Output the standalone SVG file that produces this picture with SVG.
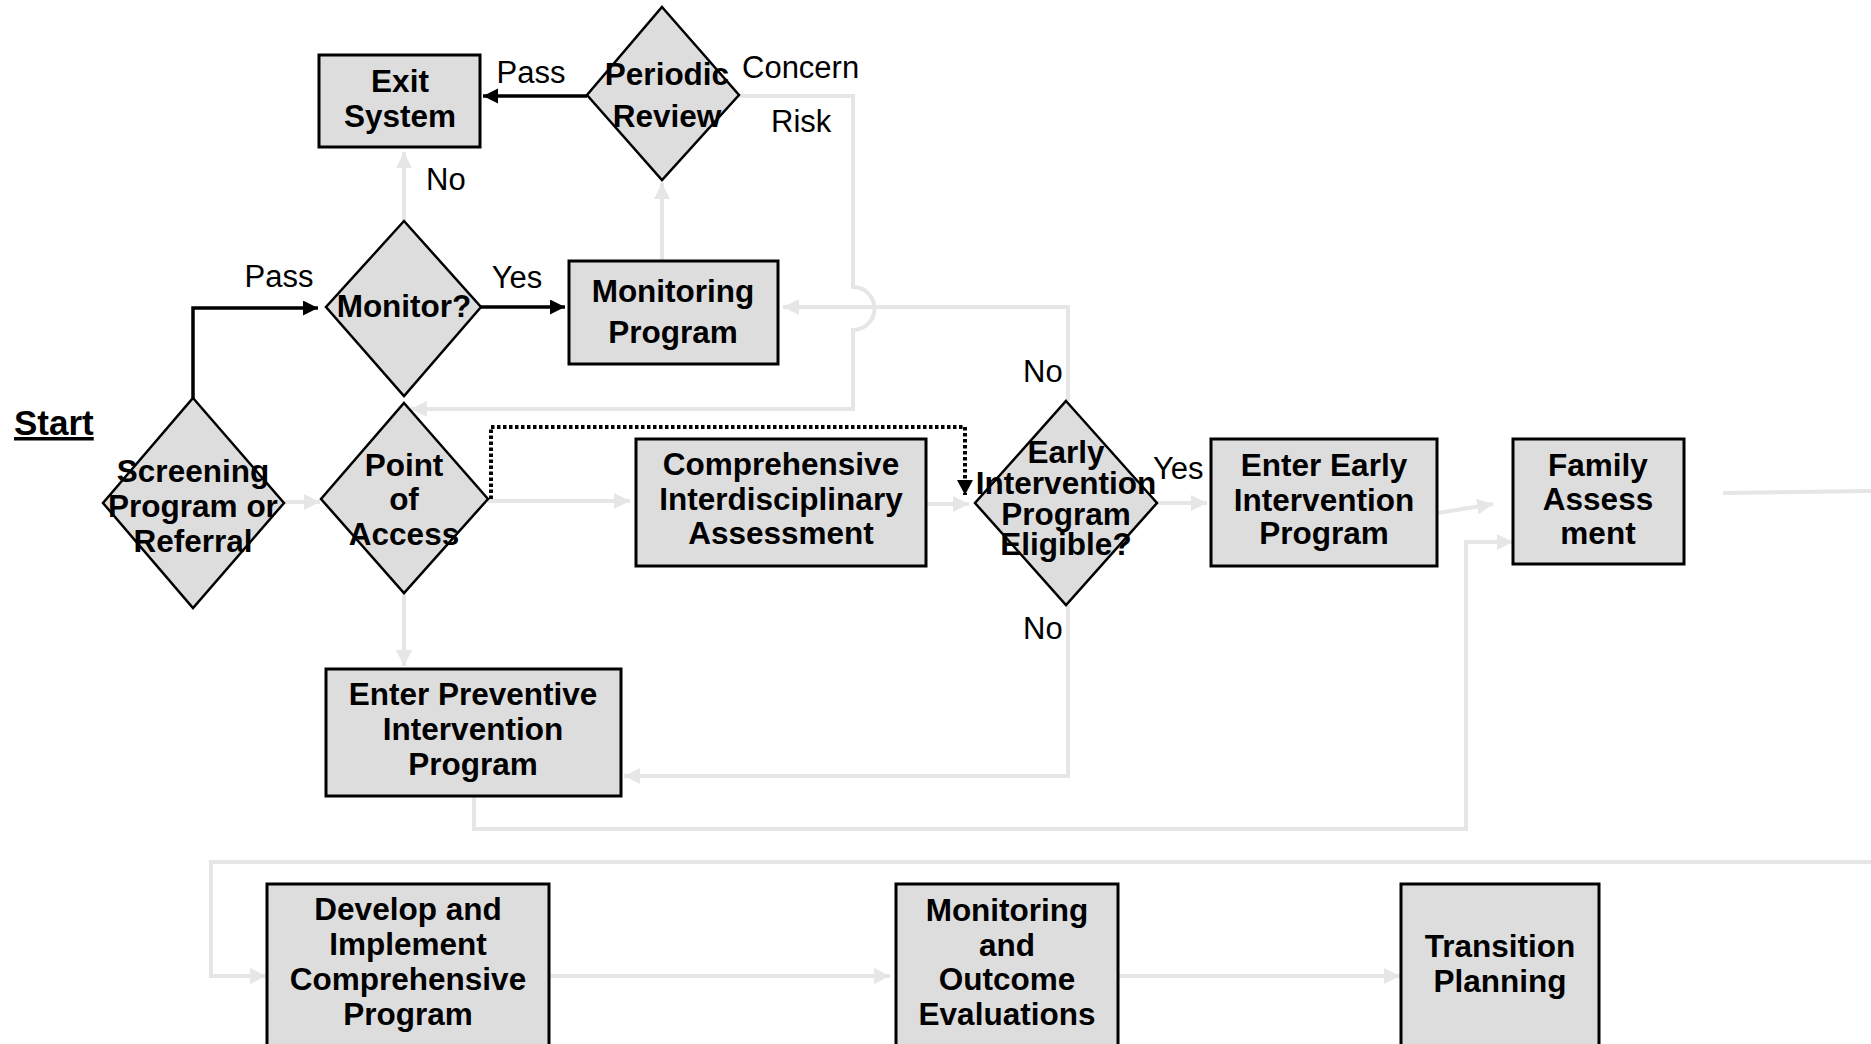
<svg xmlns="http://www.w3.org/2000/svg" width="1871" height="1044" viewBox="0 0 1871 1044">
  <style>
    .box { fill: #dddddd; stroke: #000; stroke-width: 3; }
    .dia { fill: #dddddd; stroke: #000; stroke-width: 2.5; }
    .nt { font-family: "Liberation Sans", Arial, sans-serif; font-weight: bold; font-size: 31.5px; fill: #000; text-anchor: middle; }
    .lbl { font-family: "Liberation Sans", Arial, sans-serif; font-size: 31px; fill: #000; }
    .mid { text-anchor: middle; }
    .flow { fill: none; stroke: #e6e6e6; stroke-width: 4; }
    .main { fill: none; stroke: #000; stroke-width: 3.5; }
    .dot { fill: none; stroke: #000; stroke-width: 4; stroke-dasharray: 3.5 2.5; }
  </style>
  <defs>
    <marker id="ah-gray" markerUnits="userSpaceOnUse" markerWidth="16" markerHeight="16" refX="16" refY="8" orient="auto">
      <path d="M0,0 L16,8 L0,16 z" fill="#e6e6e6"/>
    </marker>
    <marker id="ah-black" markerUnits="userSpaceOnUse" markerWidth="16" markerHeight="16" refX="15" refY="7.5" orient="auto">
      <path d="M0,0 L15,7.5 L0,15 z" fill="#000"/>
    </marker>
    <marker id="ah-dot" markerUnits="userSpaceOnUse" markerWidth="16" markerHeight="18" refX="15" refY="8" orient="auto">
      <path d="M0,0 L15,8 L0,16 z" fill="#000"/>
    </marker>
  </defs>
  <rect width="1871" height="1044" fill="#fff"/>

  <!-- connectors -->
  <g id="connectors">
    <path class="flow" d="M739,96 H853 V287 A21.5 21.5 0 0 1 853 330 V409 H411" marker-end="url(#ah-gray)"/>
    <path class="flow" d="M1068,401 V307 H783" marker-end="url(#ah-gray)"/>
    <path class="flow" d="M1068,605 V776 H624" marker-end="url(#ah-gray)"/>
    <path class="flow" d="M474,796 V829 H1466 V542 H1513" marker-end="url(#ah-gray)"/>
    <path class="flow" d="M1871,862 H211 V976 H266" marker-end="url(#ah-gray)"/>
    <path class="flow" d="M549,976 H890" marker-end="url(#ah-gray)"/>
    <path class="flow" d="M1118,976 H1400" marker-end="url(#ah-gray)"/>
    <path class="flow" d="M404,593 V666" marker-end="url(#ah-gray)"/>
    <path class="flow" d="M404,221 V152" marker-end="url(#ah-gray)"/>
    <path class="flow" d="M662,261 V183" marker-end="url(#ah-gray)"/>
    <path class="flow" d="M284,502 H320" marker-end="url(#ah-gray)"/>
    <path class="flow" d="M488,501 H630" marker-end="url(#ah-gray)"/>
    <path class="flow" d="M926,504 H969" marker-end="url(#ah-gray)"/>
    <path class="flow" d="M1157,503 H1207" marker-end="url(#ah-gray)"/>
    <path class="flow" d="M1438,513 L1493,504" marker-end="url(#ah-gray)"/>
    <path class="flow" d="M1723,493 L1871,491"/>

    <path class="main" d="M193,398 V308 H318" marker-end="url(#ah-black)"/>
    <path class="main" d="M481,307 H565" marker-end="url(#ah-black)"/>
    <path class="main" d="M587,96 H483" marker-end="url(#ah-black)"/>

    <path class="dot" d="M491,499 V427 H965 V495" marker-end="url(#ah-dot)"/>

    <g id="edge-labels">
      <text class="lbl mid" x="531" y="83">Pass</text>
      <text class="lbl" x="742" y="78">Concern</text>
      <text class="lbl" x="771" y="132">Risk</text>
      <text class="lbl" x="426" y="190">No</text>
      <text class="lbl mid" x="279" y="287">Pass</text>
      <text class="lbl mid" x="517" y="288">Yes</text>
      <text class="lbl" x="1023" y="382">No</text>
      <text class="lbl" x="1023" y="639">No</text>
      <text class="lbl" x="1153" y="479">Yes</text>
    </g>
  </g>

  <!-- nodes -->
  <g id="start">
    <text x="14" y="435" font-family="Liberation Sans, Arial, sans-serif" font-weight="bold" font-size="35" text-decoration="underline">Start</text>
  </g>

  <g id="exit-system">
    <rect class="box" x="319" y="55" width="161" height="92"/>
    <text class="nt" x="400" y="92">Exit</text>
    <text class="nt" x="400" y="127">System</text>
  </g>

  <g id="periodic-review">
    <polygon class="dia" points="662,7 739,95 662,180 587,95"/>
    <text class="nt" x="667" y="85">Periodic</text>
    <text class="nt" x="667" y="127">Review</text>
  </g>

  <g id="monitor-decision">
    <polygon class="dia" points="404,221 481,307 404,396 326,307"/>
    <text class="nt" x="404" y="317">Monitor?</text>
  </g>

  <g id="monitoring-program">
    <rect class="box" x="569" y="261" width="209" height="103"/>
    <text class="nt" x="673" y="302">Monitoring</text>
    <text class="nt" x="673" y="343">Program</text>
  </g>

  <g id="screening">
    <polygon class="dia" points="193,398 284,503 193,608 103,503"/>
    <text class="nt" x="193" y="482">Screening</text>
    <text class="nt" x="193" y="517">Program or</text>
    <text class="nt" x="193" y="552">Referral</text>
  </g>

  <g id="point-of-access">
    <polygon class="dia" points="404,403 488,499 404,593 321,499"/>
    <text class="nt" x="404" y="476">Point</text>
    <text class="nt" x="404" y="510">of</text>
    <text class="nt" x="404" y="545">Access</text>
  </g>

  <g id="comprehensive-assessment">
    <rect class="box" x="636" y="439" width="290" height="127"/>
    <text class="nt" x="781" y="475">Comprehensive</text>
    <text class="nt" x="781" y="510">Interdisciplinary</text>
    <text class="nt" x="781" y="544">Assessment</text>
  </g>

  <g id="ei-eligible">
    <polygon class="dia" points="1066,401 1157,503 1066,605 975,503"/>
    <text class="nt" x="1066" y="463">Early</text>
    <text class="nt" x="1066" y="494">Intervention</text>
    <text class="nt" x="1066" y="525">Program</text>
    <text class="nt" x="1066" y="555">Eligible?</text>
  </g>

  <g id="enter-ei">
    <rect class="box" x="1211" y="439" width="226" height="127"/>
    <text class="nt" x="1324" y="476">Enter Early</text>
    <text class="nt" x="1324" y="511">Intervention</text>
    <text class="nt" x="1324" y="544">Program</text>
  </g>

  <g id="family-assessment">
    <rect class="box" x="1513" y="439" width="171" height="125"/>
    <text class="nt" x="1598" y="476">Family</text>
    <text class="nt" x="1598" y="510">Assess</text>
    <text class="nt" x="1598" y="544">ment</text>
  </g>

  <g id="enter-preventive">
    <rect class="box" x="326" y="669" width="295" height="127"/>
    <text class="nt" x="473" y="705">Enter Preventive</text>
    <text class="nt" x="473" y="740">Intervention</text>
    <text class="nt" x="473" y="775">Program</text>
  </g>

  <g id="develop-program">
    <rect class="box" x="267" y="884" width="282" height="180"/>
    <text class="nt" x="408" y="920">Develop and</text>
    <text class="nt" x="408" y="955">Implement</text>
    <text class="nt" x="408" y="990">Comprehensive</text>
    <text class="nt" x="408" y="1025">Program</text>
  </g>

  <g id="monitoring-outcome">
    <rect class="box" x="896" y="884" width="222" height="180"/>
    <text class="nt" x="1007" y="921">Monitoring</text>
    <text class="nt" x="1007" y="956">and</text>
    <text class="nt" x="1007" y="990">Outcome</text>
    <text class="nt" x="1007" y="1025">Evaluations</text>
  </g>

  <g id="transition-planning">
    <rect class="box" x="1401" y="884" width="198" height="180"/>
    <text class="nt" x="1500" y="957">Transition</text>
    <text class="nt" x="1500" y="992">Planning</text>
  </g>
</svg>
